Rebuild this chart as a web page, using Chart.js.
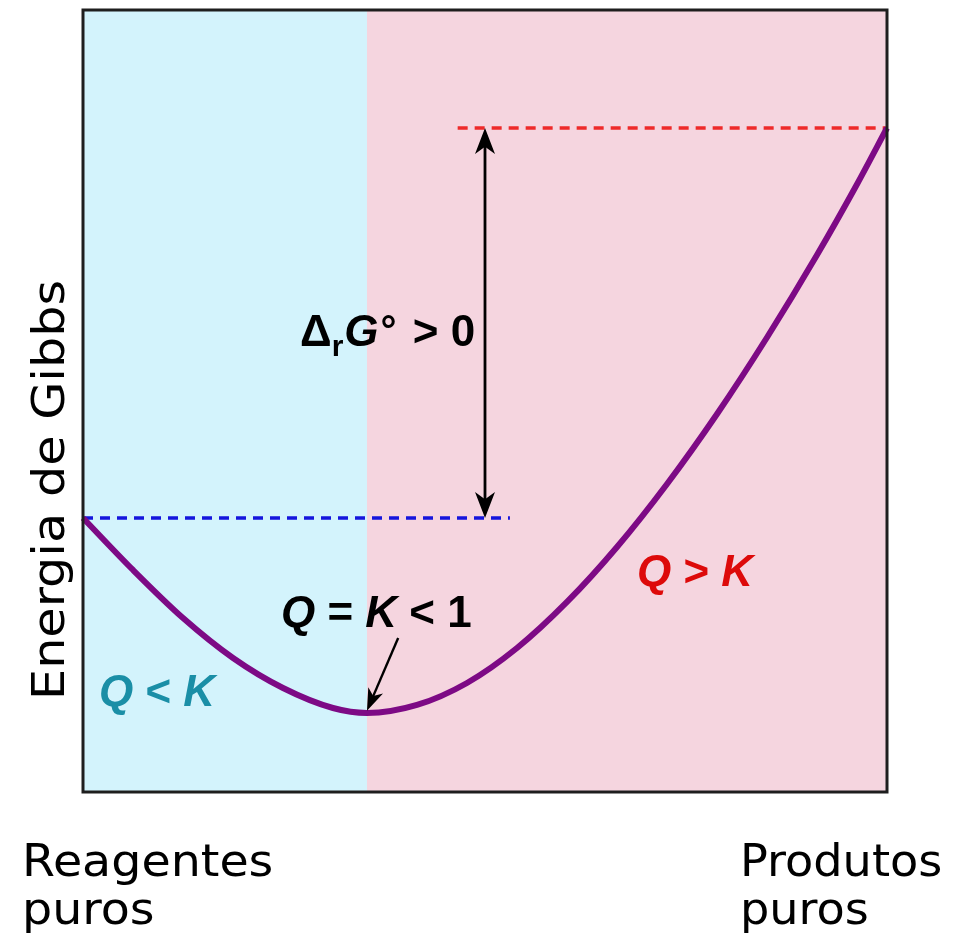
<!DOCTYPE html>
<html>
<head>
<meta charset="utf-8">
<script src="https://cdn.jsdelivr.net/npm/chart.js@4"></script>
<style>
  html, body { margin: 0; padding: 0; background: #fff; }
  #wrap { width: 966px; height: 940px; }
</style>
</head>
<body>
<div id="wrap"><canvas id="gibbsChart" width="966" height="940"></canvas></div>
<script>
// extent of reaction (0 = reagentes puros, 100 = produtos puros) and Gibbs energy (arbitrary units)
const reactionExtent = [0, 6.22, 12.44, 18.66, 24.88, 31.09, 35.32, 41.54, 47.76, 53.98, 60.20, 66.42, 72.64, 78.86, 85.07, 91.29, 96.27, 100];
const gibbsEnergy    = [35.04, 28.39, 22.25, 17.14, 13.30, 10.74, 10.10, 11.13, 13.94, 18.41, 24.30, 31.33, 39.39, 48.34, 58.12, 68.67, 77.72, 84.91];

const equilibriumX = 35.32;
const reactantLevel = 35.04;
const productLevel = 84.91;
const reactantLineX = [0, 53.1];
const productLineX = [46.6, 100];
const deltaArrowX = 50.0;

const axisTitle = 'Energia de Gibbs';
const leftLabel = ['Reagentes', 'puros'];
const rightLabel = ['Produtos', 'puros'];

const curveData = reactionExtent.map((x, i) => ({ x, y: gibbsEnergy[i] }));

function drawArrowHead(ctx, x, y, angle, len, half) {
    ctx.save();
    ctx.translate(x, y);
    ctx.rotate(angle);
    ctx.beginPath();
    ctx.moveTo(0, 0);
    ctx.lineTo(-len, -half);
    ctx.lineTo(-len * 0.72, 0);
    ctx.lineTo(-len, half);
    ctx.closePath();
    ctx.fill();
    ctx.restore();
}

// draws a run of text pieces [text, font, dy, extra gap after]
function drawRich(ctx, x, y, parts, color) {
    ctx.fillStyle = color;
    ctx.textBaseline = 'alphabetic';
    ctx.textAlign = 'left';
    parts.forEach(p => {
        ctx.font = p[1];
        ctx.fillText(p[0], x, y + (p[2] || 0));
        x += ctx.measureText(p[0]).width + (p[3] || 0);
    });
}

function stretchedText(ctx, text, x, y, sx) {
    ctx.save();
    ctx.translate(x, y);
    ctx.scale(sx, 1);
    ctx.fillText(text, 0, 0);
    ctx.restore();
}

const diagramPlugin = {
    id: 'diagram',
    beforeDatasetsDraw(chart) {
        const { ctx, chartArea: a, scales: { x } } = chart;
        const xm = x.getPixelForValue(equilibriumX);
        ctx.save();
        ctx.fillStyle = '#d3f3fc';
        ctx.fillRect(a.left, a.top, xm - a.left, a.bottom - a.top);
        ctx.fillStyle = '#f5d5df';
        ctx.fillRect(xm, a.top, a.right - xm, a.bottom - a.top);
        ctx.restore();
    },
    afterDatasetsDraw(chart) {
        const { ctx, chartArea: a, scales: { x, y } } = chart;
        ctx.save();

        // frame
        ctx.strokeStyle = '#1e1e1e';
        ctx.lineWidth = 3;
        ctx.strokeRect(a.left, a.top, a.right - a.left, a.bottom - a.top);

        // delta G arrow
        const ax = x.getPixelForValue(deltaArrowX);
        const yTop = y.getPixelForValue(productLevel);
        const yBot = y.getPixelForValue(reactantLevel);
        ctx.strokeStyle = '#000';
        ctx.fillStyle = '#000';
        ctx.lineWidth = 2.8;
        ctx.beginPath();
        ctx.moveTo(ax, yTop + 14);
        ctx.lineTo(ax, yBot - 14);
        ctx.stroke();
        drawArrowHead(ctx, ax, yTop, -Math.PI / 2, 26, 10);
        drawArrowHead(ctx, ax, yBot, Math.PI / 2, 26, 10);

        // equilibrium pointer
        const sx = x.getPixelForValue(39.2), sy = y.getPixelForValue(19.7);
        const ex = x.getPixelForValue(equilibriumX), ey = y.getPixelForValue(10.4);
        const ang = Math.atan2(ey - sy, ex - sx);
        ctx.lineWidth = 2.4;
        ctx.beginPath();
        ctx.moveTo(sx, sy);
        ctx.lineTo(ex - Math.cos(ang) * 12, ey - Math.sin(ang) * 12);
        ctx.stroke();
        drawArrowHead(ctx, ex, ey, ang, 22, 8);

        // texts inside
        const F = '"Liberation Sans", Arial, sans-serif';
        const B = 'bold 44px ' + F;
        const BI = 'italic bold 44px ' + F;
        drawRich(ctx, 300, 346, [
            ['\u0394', B], ['r', 'bold 30px ' + F, 10, 1],
            ['G', BI, 0, 2], ['\u00b0', 'bold 40px ' + F, -2, 4],
            [' > 0', B]
        ], '#000');
        drawRich(ctx, 281, 627, [['Q', BI], [' = ', B], ['K', BI], [' < 1', B]], '#000');
        drawRich(ctx, 99, 706, [['Q', BI], [' < ', B], ['K', BI]], '#1a8ea6');
        drawRich(ctx, 637, 586, [['Q', BI], [' > ', B], ['K', BI]], '#dd0a0a');

        // axis title and end labels
        ctx.fillStyle = '#000';
        ctx.font = '44px "DejaVu Sans", sans-serif';
        ctx.textAlign = 'left';
        ctx.save();
        ctx.translate(64, 700);
        ctx.rotate(-Math.PI / 2);
        stretchedText(ctx, axisTitle, 0, 0, 1.12);
        ctx.restore();

        stretchedText(ctx, leftLabel[0], 22, 876, 1.08);
        stretchedText(ctx, leftLabel[1], 22, 924, 1.08);
        stretchedText(ctx, rightLabel[0], 740, 876, 1.05);
        stretchedText(ctx, rightLabel[1], 740, 924, 1.05);
        ctx.restore();
    }
};

new Chart(document.getElementById('gibbsChart'), {
    type: 'scatter',
    data: {
        datasets: [
            {
                label: 'G',
                data: curveData,
                showLine: true,
                borderColor: '#7d0a85',
                borderWidth: 6,
                pointRadius: 0,
                cubicInterpolationMode: 'monotone',
                order: 1
            },
            {
                label: 'reagentes',
                data: reactantLineX.map(x => ({ x, y: reactantLevel })),
                showLine: true,
                borderColor: '#1515dd',
                borderWidth: 3.5,
                borderDash: [10, 7],
                pointRadius: 0,
                order: 2
            },
            {
                label: 'produtos',
                data: productLineX.map(x => ({ x, y: productLevel })),
                showLine: true,
                borderColor: '#ee2a2a',
                borderWidth: 3.5,
                borderDash: [10, 7],
                pointRadius: 0,
                order: 2
            }
        ]
    },
    options: {
        responsive: false,
        animation: false,
        layout: { padding: { left: 83, top: 10, right: 79, bottom: 148 } },
        plugins: { legend: { display: false }, tooltip: { enabled: false } },
        scales: {
            x: { type: 'linear', min: 0, max: 100, display: false },
            y: { min: 0, max: 100, display: false }
        },
        clip: false
    },
    plugins: [diagramPlugin]
});
</script>
</body>
</html>
